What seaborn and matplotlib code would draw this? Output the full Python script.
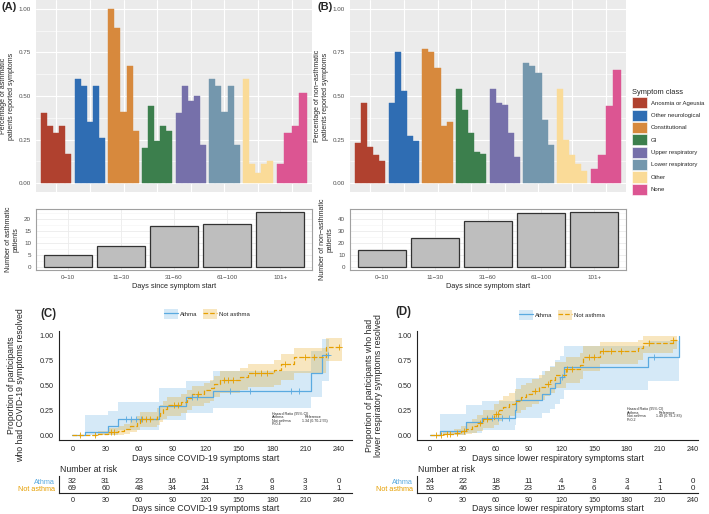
import numpy as np
import matplotlib
matplotlib.use("Agg")
import matplotlib.pyplot as plt
import seaborn as sns
from matplotlib.patches import Patch
from matplotlib.lines import Line2D
from matplotlib.ticker import MultipleLocator

W, H = 709, 514

# ---------------- data: panels A / B ----------------
classes = ["Anosmia or Ageusia", "Other neurological", "Constitutional", "GI",
           "Upper respiratory", "Lower respiratory", "Other", "None"]
class_colors = ["#B0412F", "#2F6DB3", "#D7893D", "#3C7F4D",
                "#7670AA", "#7497AD", "#FADB98", "#DC5592"]
bins = ["0\u221210", "11\u221230", "31\u221260", "61\u2212100", "101+"]
nan = np.nan

# share of patients reporting each symptom class, by bin (nan = bin not present)
asthma_pct = [
    [0.40, 0.33, 0.29, 0.33, 0.17],
    [0.60, 0.56, 0.35, 0.56, 0.26],
    [1.00, 0.89, 0.41, 0.67, 0.30],
    [0.20, 0.44, 0.24, 0.33, 0.30],
    [0.40, 0.56, 0.47, 0.50, 0.22],
    [0.60, 0.56, 0.41, 0.56, 0.22],
    [0.60, 0.11, 0.06, 0.11, 0.13],
    [nan, 0.11, 0.29, 0.33, 0.52],
]
non_asthma_pct = [
    [0.23, 0.46, 0.21, 0.16, 0.13],
    [0.46, 0.75, 0.53, 0.27, 0.24],
    [0.77, 0.75, 0.66, 0.33, 0.35],
    [0.54, 0.42, 0.29, 0.18, 0.17],
    [0.54, 0.46, 0.45, 0.29, 0.15],
    [0.69, 0.67, 0.63, 0.36, 0.22],
    [0.54, 0.25, 0.16, 0.11, 0.07],
    [nan, 0.08, 0.16, 0.44, 0.65],
]
asthma_n = [5, 9, 17, 18, 23]
non_asthma_n = [14, 24, 38, 45, 46]

# ---------------- data: panel C (COVID-19 symptoms) ----------------
c_ath_t = [0, 11, 32, 41, 78, 102, 127, 215, 225, 231]
c_ath_p = [0, 0.03, 0.09, 0.16, 0.29, 0.38, 0.44, 0.63, 0.81, 0.81]
c_ath_lo = [0, 0, 0, 0.05, 0.15, 0.22, 0.27, 0.38, 0.55, 0.55]
c_ath_hi = [0, 0.20, 0.24, 0.33, 0.47, 0.55, 0.65, 0.85, 0.97, 0.97]
c_ath_cens = [48, 53, 57, 62, 108, 112, 142, 160, 197, 204, 230]

c_not_t = [0, 23, 32, 41, 47, 52, 58, 61, 76, 79, 82, 85, 98, 103, 108, 119,
           124, 128, 133, 151, 158, 182, 188, 200, 229, 243]
c_not_p = [0, 0.015, 0.03, 0.045, 0.06, 0.09, 0.12, 0.16, 0.19, 0.22, 0.26, 0.30,
           0.33, 0.37, 0.41, 0.45, 0.47, 0.52, 0.56, 0.59, 0.63, 0.66, 0.72, 0.79,
           0.89, 0.89]
c_not_lo = [0, 0, 0, 0, 0.01, 0.03, 0.05, 0.08, 0.10, 0.13, 0.16, 0.19, 0.22, 0.25,
            0.29, 0.32, 0.34, 0.38, 0.42, 0.45, 0.48, 0.51, 0.56, 0.63, 0.75, 0.75]
c_not_hi = [0, 0.04, 0.07, 0.09, 0.11, 0.15, 0.19, 0.23, 0.27, 0.30, 0.34, 0.38,
            0.41, 0.45, 0.49, 0.53, 0.56, 0.60, 0.65, 0.68, 0.72, 0.76, 0.82, 0.88,
            0.98, 0.98]
c_not_cens = [7, 20, 35, 38, 63, 66, 70, 92, 95, 113, 137, 140, 145, 165, 170, 175,
              192, 210, 218, 240]

c_risk_ath = [32, 31, 23, 16, 11, 7, 6, 3, 0]
c_risk_not = [69, 60, 48, 34, 24, 13, 8, 3, 1]

# ---------------- data: panel D (lower respiratory) ----------------
d_ath_t = [0, 9, 33, 47, 78, 79, 102, 110, 114, 119, 122, 199, 228]
d_ath_p = [0, 0.04, 0.13, 0.17, 0.25, 0.35, 0.41, 0.47, 0.53, 0.59, 0.69, 0.79, 1.0]
d_ath_lo = [0, 0, 0.02, 0.05, 0.10, 0.17, 0.22, 0.26, 0.31, 0.36, 0.45, 0.55, 0.55]
d_ath_hi = [0, 0.21, 0.30, 0.34, 0.44, 0.58, 0.65, 0.70, 0.76, 0.80, 0.90, 0.95, 0.95]
d_ath_cens = [52, 57, 62, 66, 72, 121, 205]

d_not_t = [0, 12, 22, 28, 33, 38, 43, 48, 58, 63, 67, 72, 78, 83, 88, 93, 100, 105,
           110, 114, 124, 137, 140, 155, 190, 195, 222, 226]
d_not_p = [0, 0.01, 0.02, 0.04, 0.06, 0.09, 0.12, 0.16, 0.21, 0.25, 0.28, 0.31, 0.34,
           0.38, 0.41, 0.44, 0.48, 0.52, 0.56, 0.61, 0.67, 0.71, 0.79, 0.85, 0.88,
           0.93, 0.96, 0.96]
d_not_lo = [0, 0, 0, 0, 0.01, 0.02, 0.04, 0.07, 0.10, 0.14, 0.16, 0.19, 0.22, 0.25,
            0.28, 0.31, 0.35, 0.39, 0.42, 0.47, 0.53, 0.57, 0.65, 0.72, 0.76, 0.83,
            0.87, 0.87]
d_not_hi = [0, 0.04, 0.06, 0.09, 0.12, 0.16, 0.20, 0.25, 0.31, 0.35, 0.39, 0.42, 0.46,
            0.50, 0.53, 0.57, 0.61, 0.65, 0.69, 0.74, 0.79, 0.83, 0.90, 0.94, 0.96,
            1.0, 1.0, 1.0]
d_not_cens = [5, 10, 15, 18, 25, 31, 46, 52, 60, 62, 96, 108, 125, 130, 145, 150,
              158, 165, 175, 200, 222]

d_risk_ath = [24, 22, 18, 11, 4, 3, 3, 1, 0]
d_risk_not = [53, 46, 35, 23, 15, 6, 4, 1, 0]

risk_times = [0, 30, 60, 90, 120, 150, 180, 210, 240]
group_labels = ["Athma", "Not asthma"]
BLUE = "#5AAAE0"
ORANGE = "#E69F00"

sns.set_style("white")
plt.rcParams["font.family"] = ["Liberation Sans", "DejaVu Sans"]

fig = plt.figure(figsize=(W / 100, H / 100), dpi=100)


def px_axes(x0, y0, x1, y1):
    return fig.add_axes([x0 / W, 1 - y1 / H, (x1 - x0) / W, (y1 - y0) / H])


# ---------------- top: symptom class bars ----------------
def symptom_panel(ax, pct, ylabel):
    ax.set_facecolor("#EBEBEB")
    for s in ax.spines.values():
        s.set_visible(False)
    for g, col in enumerate(class_colors):
        vals = [v for v in pct[g] if not np.isnan(v)]
        n = len(vals)
        w = 0.9 / n
        xs = g + 1 - 0.45 + w * (np.arange(n) + 0.5)
        ax.bar(xs, vals, width=w, color=col, edgecolor=col, linewidth=0.3, zorder=3)
    ax.set_xlim(0.4, 8.6)
    ax.set_ylim(-0.05, 1.05)
    ax.set_xticks(range(1, 9))
    ax.set_xticklabels([])
    ax.yaxis.set_major_locator(MultipleLocator(0.25))
    ax.yaxis.set_minor_locator(MultipleLocator(0.125))
    ax.yaxis.set_major_formatter(lambda v, p: f"{v:.2f}")
    ax.grid(which="major", color="white", linewidth=0.8)
    ax.grid(which="minor", axis="y", color="white", linewidth=0.4)
    ax.tick_params(axis="x", length=0)
    ax.tick_params(axis="y", which="major", length=2, width=0.5, color="#333333",
                   labelsize=4.5, labelcolor="#4D4D4D", pad=1.5)
    ax.tick_params(axis="y", which="minor", length=0)
    ax.set_ylabel(ylabel, fontsize=5, labelpad=3, linespacing=1.1)


def count_panel(ax, counts, ylabel, step, minor):
    sns.barplot(x=bins, y=counts, color="#BEBEBE", saturation=1, width=0.9,
                edgecolor="#333333", linewidth=0.9, ax=ax, zorder=3)
    ax.set_xlim(-0.6, 4.6)
    ax.set_ylim(-0.05 * max(counts), 1.05 * max(counts))
    ax.yaxis.set_major_locator(MultipleLocator(step))
    ax.yaxis.set_minor_locator(MultipleLocator(minor))
    ax.grid(which="major", color="#EBEBEB", linewidth=0.6)
    ax.grid(which="minor", axis="y", color="#F3F3F3", linewidth=0.4)
    for s in ax.spines.values():
        s.set_color("#A0A0A0")
        s.set_linewidth(0.8)
    ax.tick_params(which="major", length=2, width=0.5, color="#333333",
                   labelsize=4.5, labelcolor="#4D4D4D", pad=1.5)
    ax.tick_params(axis="y", which="minor", length=0)
    ax.set_xlabel("Days since symptom start", fontsize=5.3, labelpad=2)
    ax.set_ylabel(ylabel, fontsize=5, labelpad=3, linespacing=1.1)


ax_a = px_axes(36, 0, 312, 192)
symptom_panel(ax_a, asthma_pct, "Percentage of asthmatic\npatients reported symptoms")
ax_b = px_axes(350, 0, 626, 192)
symptom_panel(ax_b, non_asthma_pct, "Percentage of non\u2212asthmatic\npatients reported symptoms")

ax_a2 = px_axes(36, 209, 312, 270)
count_panel(ax_a2, asthma_n, "Number of asthmatic\npatients", 5, 2.5)
ax_b2 = px_axes(350, 209, 626, 270)
count_panel(ax_b2, non_asthma_n, "Number of non\u2212asthmatic\npatients", 10, 5)

fig.legend(handles=[Patch(facecolor=c, edgecolor="white", linewidth=0.4) for c in class_colors],
           labels=classes, title="Symptom class", loc="upper left",
           bbox_to_anchor=(632 / W, 1 - 89 / H), frameon=False, fontsize=4.3,
           title_fontsize=5.4, handlelength=2.5, handleheight=2.5,
           labelspacing=0.2, handletextpad=0.6, alignment="left", borderaxespad=0,
           borderpad=0)

fig.text(2 / W, 1 - 7 / H, "(A)", fontsize=8, fontweight="bold", va="center")
fig.text(318 / W, 1 - 7 / H, "(B)", fontsize=8, fontweight="bold", va="center")


# ---------------- bottom: Kaplan-Meier style curves ----------------
def km_curve(ax, t, p, lo, hi, cens, color, ls):
    ax.fill_between(t, lo, hi, step="post", color=color, alpha=0.25, linewidth=0)
    sns.lineplot(x=t, y=p, drawstyle="steps-post", estimator=None, color=color,
                 linestyle=ls, linewidth=0.9, ax=ax)
    idx = np.searchsorted(t, cens, side="right") - 1
    sns.scatterplot(x=cens, y=np.array(p)[idx], marker="+", s=14, color=color,
                    linewidth=0.6, ax=ax, zorder=4)


def km_panel(ax, curves, xlabel, ylabel, hr_lines, hr_y, xmax):
    for t, p, lo, hi, cens, col, ls in curves:
        km_curve(ax, t, p, lo, hi, cens, col, ls)
    ax.set_xlim(-12, xmax)
    ax.set_ylim(-0.05, 1.05)
    ax.set_xticks(risk_times)
    ax.yaxis.set_major_locator(MultipleLocator(0.25))
    ax.yaxis.set_major_formatter(lambda v, p: f"{v:.2f}")
    sns.despine(ax=ax)
    for s in ("left", "bottom"):
        ax.spines[s].set_linewidth(0.8)
        ax.spines[s].set_color("#222222")
    ax.tick_params(length=2.5, width=0.6, labelsize=5.2, pad=1.5, color="#222222")
    ax.set_xlabel(xlabel, fontsize=6.3, labelpad=1)
    ax.set_ylabel(ylabel, fontsize=6.3, labelpad=10, linespacing=1.1)
    for (left, right, right_x), y in zip(hr_lines, hr_y):
        ax.text(180, y, left, fontsize=2.6, va="center")
        if right:
            ax.text(right_x, y, right, fontsize=2.6, va="center")


def risk_table(ax, ath, notas, xlabel, xmax):
    for x, a, n in zip(risk_times, ath, notas):
        ax.text(x, 1, str(a), ha="center", va="center", fontsize=5.8)
        ax.text(x, 0, str(n), ha="center", va="center", fontsize=5.8)
    ax.set_xlim(-12, xmax)
    ax.set_ylim(-0.6, 1.7)
    ax.set_xticks(risk_times)
    ax.set_yticks([1, 0])
    ax.set_yticklabels(group_labels)
    for lab, col in zip(ax.get_yticklabels(), [BLUE, ORANGE]):
        lab.set_color(col)
    sns.despine(ax=ax)
    for s in ("left", "bottom"):
        ax.spines[s].set_linewidth(0.8)
        ax.spines[s].set_color("#222222")
    ax.tick_params(length=2, width=0.6, labelsize=5.2, pad=0.8, color="#222222")
    ax.set_xlabel(xlabel, fontsize=6.3, labelpad=0)


def km_legend(x, y):
    handles = [(Patch(facecolor=BLUE, alpha=0.25, linewidth=0),
                Line2D([], [], color=BLUE, linewidth=0.9)),
               (Patch(facecolor=ORANGE, alpha=0.25, linewidth=0),
                Line2D([], [], color=ORANGE, linewidth=0.9, linestyle="--"))]
    fig.legend(handles=handles, labels=group_labels, loc="center",
               bbox_to_anchor=(x / W, 1 - y / H), ncol=2, frameon=False,
               fontsize=4.3, handlelength=2.4, handleheight=2.0,
               columnspacing=0.8, handletextpad=0.4)


ax_c = px_axes(59, 331, 352, 440)
km_panel(ax_c,
         [(c_ath_t, c_ath_p, c_ath_lo, c_ath_hi, c_ath_cens, BLUE, "-"),
          (c_not_t, c_not_p, c_not_lo, c_not_hi, c_not_cens, ORANGE, "--")],
         "Days since COVID-19 symptoms start",
         "Proportion of participants\nwho had COVID-19 symptoms resolved",
         [("Hazard Ratio (95% CI)", "", 0), ("Asthma", "Reference", 209),
          ("Not asthma", "1.34 (0.70-2.55)", 207), ("P=0.4", "", 0)],
         [0.215, 0.18, 0.145, 0.108], 252)
ax_ct = px_axes(59, 476, 352, 493)
risk_table(ax_ct, c_risk_ath, c_risk_not, "Days since COVID-19 symptoms start", 252)

ax_d = px_axes(417, 331, 698, 440)
km_panel(ax_d,
         [(d_ath_t, d_ath_p, d_ath_lo, d_ath_hi, d_ath_cens, BLUE, "-"),
          (d_not_t, d_not_p, d_not_lo, d_not_hi, d_not_cens, ORANGE, "--")],
         "Days since lower respiratory symptoms start",
         "Proportion of participants who had\nlower respiratory symptoms resolved",
         [("Hazard Ratio (95% CI)", "", 0), ("Asthma", "Reference", 209),
          ("Not asthma", "1.49 (0.79-2.83)", 207), ("P=0.2", "", 0)],
         [0.26, 0.225, 0.19, 0.153], 245)
ax_dt = px_axes(417, 476, 698, 493)
risk_table(ax_dt, d_risk_ath, d_risk_not, "Days since lower respiratory symptoms start", 245)

fig.text(60 / W, 1 - 470 / H, "Number at risk", fontsize=6.3, va="center")
fig.text(418 / W, 1 - 470 / H, "Number at risk", fontsize=6.3, va="center")

fig.text(40 / W, 1 - 314 / H, "(C)", fontsize=8.3, fontweight="bold", va="center")
fig.text(395 / W, 1 - 312 / H, "(D)", fontsize=8.3, fontweight="bold", va="center")
km_legend(207, 314)
km_legend(562, 315)

fig.savefig("out.png", dpi=100)
